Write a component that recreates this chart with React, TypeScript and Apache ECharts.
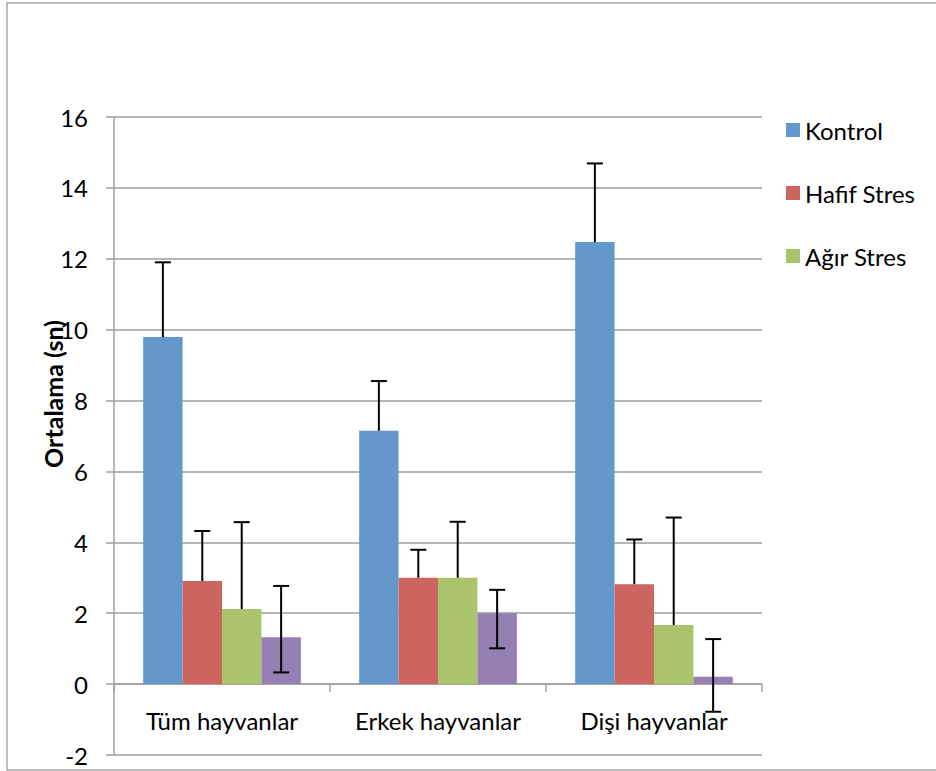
import React, { useEffect, useRef } from "react";
import * as echarts from "echarts";

const categories = ["Tüm hayvanlar", "Erkek hayvanlar", "Dişi hayvanlar"];
const seriesNames = ["Kontrol", "Hafif Stres", "Ağır Stres", "Grup 4"];
const kontrol = [9.79, 7.15, 12.47];
const hafif = [2.91, 3.0, 2.82];
const agir = [2.12, 3.0, 1.67];
const grup4 = [1.32, 2.0, 0.21];
const kontrolUp = [11.9, 8.55, 14.69];
const hafifUp = [4.32, 3.79, 4.08];
const agirUp = [4.57, 4.58, 4.7];
const grup4Low = [0.33, 1.01, -0.78];
const grup4Up = [2.77, 2.66, 1.27];
const yTicks = [-2, 0, 2, 4, 6, 8, 10, 12, 14, 16];
const yTitle = "Ortalama (sn)";

const colors = ["#6497cb", "#cc6560", "#aac46c", "#957fb3"];
const FONT = "Lato";

export default function App() {
  const ref = useRef<HTMLDivElement>(null);
  useEffect(() => {
    document.body.style.margin = "0";
    const chart = echarts.init(ref.current!, null, { renderer: "svg" });
    const values = [kontrol, hafif, agir, grup4];
    const errData: any[] = [];
    categories.forEach((_, c) => {
      errData.push([c, 0, kontrol[c], kontrolUp[c], 0]);
      errData.push([c, 1, hafif[c], hafifUp[c], 0]);
      errData.push([c, 2, agir[c], agirUp[c], 0]);
      errData.push([c, 3, grup4Low[c], grup4Up[c], 1]);
    });
    const gapRatio = 0.27;
    const nBars = 4;
    chart.setOption({
      animation: false,
      textStyle: { fontFamily: FONT },
      graphic: [
        {
          type: "rect",
          shape: { x: 7, y: 3, width: 1000, height: 767 },
          style: { fill: "none", stroke: "#a6a6a6", lineWidth: 1.5 },
          silent: true,
        },
        {
          type: "text",
          x: 53,
          y: 394,
          rotation: Math.PI / 2,
          style: {
            text: yTitle,
            fontFamily: FONT,
            fontSize: 25,
            fontWeight: "bold",
            fill: "#000",
            textAlign: "center",
            textVerticalAlign: "middle",
          },
          silent: true,
        },
      ],
      grid: { left: 114, right: 174, top: 117, bottom: 16, containLabel: false, outerBoundsMode: "none" },
      legend: {
        orient: "vertical",
        left: 781,
        top: 113,
        itemWidth: 14,
        itemHeight: 14,
        itemGap: 39,
        icon: "rect",
        data: seriesNames.slice(0, 3),
        textStyle: { fontFamily: FONT, fontSize: 24, color: "#000", lineHeight: 24 },
      },
      xAxis: {
        type: "category",
        data: categories,
        axisLine: { show: true, onZero: true, lineStyle: { color: "#a0a0a0", width: 1.5 } },
        axisTick: { show: true, length: 8, lineStyle: { color: "#a0a0a0", width: 1.5 } },
        axisLabel: { fontFamily: FONT, fontSize: 24, color: "#000", margin: -47 },
        splitLine: { show: false },
      },
      yAxis: {
        type: "value",
        min: -2,
        max: 16,
        interval: 2,
        axisLine: { show: true, lineStyle: { color: "#a0a0a0", width: 1.5 } },
        axisTick: { show: true, length: 8, lineStyle: { color: "#a0a0a0", width: 1.5 } },
        axisLabel: {
          fontFamily: FONT,
          fontSize: 24,
          color: "#000",
          margin: 26,
          formatter: (v: number) => (yTicks.includes(v) ? String(v) : ""),
        },
        splitLine: { show: true, lineStyle: { color: "#9c9c9c", width: 1.5 } },
      },
      series: [
        ...values.map((d, i) => ({
          type: "bar",
          name: seriesNames[i],
          data: d,
          barGap: "0%",
          barCategoryGap: "27%",
          itemStyle: { color: colors[i] },
          z: 2,
        })),
        {
          type: "custom",
          name: "err",
          data: errData,
          encode: { x: 0, y: [2, 3] },
          z: 5,
          silent: true,
          renderItem: (params: any, api: any) => {
            const c = api.value(0);
            const s = api.value(1);
            const lo = api.value(2);
            const hi = api.value(3);
            const lowCap = api.value(4);
            const band = api.size([1, 0])[0];
            const bw = (band * (1 - gapRatio)) / nBars;
            const top = api.coord([c, hi]);
            const bot = api.coord([c, lo]);
            const x = top[0] - (bw * nBars) / 2 + bw * (s + 0.5);
            const cap = 8;
            const style = { stroke: "#000", lineWidth: 2 };
            const children: any[] = [
              { type: "line", shape: { x1: x, y1: bot[1], x2: x, y2: top[1] }, style },
              { type: "line", shape: { x1: x - cap, y1: top[1], x2: x + cap, y2: top[1] }, style },
            ];
            if (lowCap) {
              children.push({
                type: "line",
                shape: { x1: x - cap, y1: bot[1], x2: x + cap, y2: bot[1] },
                style,
              });
            }
            return { type: "group", children };
          },
        },
      ],
    });
    return () => chart.dispose();
  }, []);
  return <div ref={ref} style={{ width: 936, height: 771 }} />;
}
